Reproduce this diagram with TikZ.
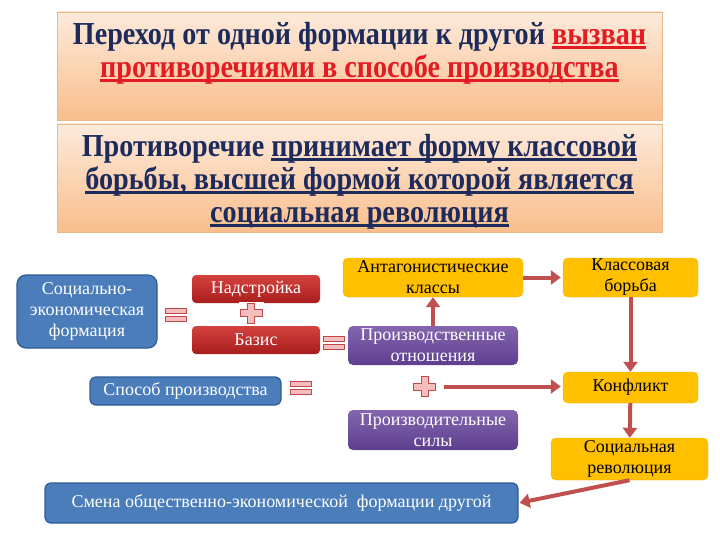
\documentclass[tikz,border=0pt]{standalone}
\usepackage{fontspec}
\setmainfont{Liberation Serif}
\usetikzlibrary{arrows.meta,positioning}

\definecolor{peachtop}{HTML}{FDEADB}
\definecolor{peachbot}{HTML}{F9BE8C}
\definecolor{peachline}{HTML}{E9B98B}
\definecolor{navytext}{HTML}{1C2B5C}
\definecolor{redtext}{HTML}{E31B23}
\definecolor{blueform}{HTML}{4A7DBA}
\definecolor{blueline}{HTML}{2E5C96}
\definecolor{redtop}{HTML}{D4423E}
\definecolor{redbot}{HTML}{A81E1E}
\definecolor{purptop}{HTML}{8465AE}
\definecolor{purpbot}{HTML}{5E3F8E}
\definecolor{goldbox}{HTML}{FFC000}
\definecolor{goldline}{HTML}{F2B600}
\definecolor{arrowred}{HTML}{C0504D}
\definecolor{signfill}{HTML}{F6BDBD}
\definecolor{signline}{HTML}{C04A4A}

% underline at a fixed depth
\newcommand\ulfix[1]{\setbox0\hbox{#1}\rlap{\rule[-4pt]{\wd0}{2.4pt}}\box0}
% narrow, tall title lines, lowered by the optional amount
\newcommand\narrowlines[2][0pt]{\raisebox{-#1}[\height][\depth]{\scalebox{0.88}[1]{\begin{tabular}{@{}c@{}}#2\end{tabular}}}}

\begin{document}
\begin{tikzpicture}[x=1pt, y=-1pt,
    titlebox/.style={draw=peachline, top color=peachtop, bottom color=peachbot, minimum width=605pt, minimum height=108pt, align=center, text=navytext, font=\fontsize{32}{33}\selectfont\bfseries},
    lowtext/.style={font=\fontsize{18}{21}\selectfont, align=center, inner sep=0pt},
    bluebox/.style={lowtext, draw=blueline, line width=1.2pt, fill=blueform, text=white, rounded corners=6pt},
    redbox/.style={lowtext, top color=redtop, bottom color=redbot, text=white, rounded corners=4pt, minimum width=128pt, minimum height=28pt},
    purplebox/.style={lowtext, top color=purptop, bottom color=purpbot, text=white, rounded corners=5pt, minimum width=170pt},
    goldbox/.style={lowtext, draw=goldline, fill=goldbox, text=black, rounded corners=5pt},
    eqsign/.style={fill=white, inner sep=0pt, minimum width=24pt, minimum height=17pt, path picture={
        \draw[shift={(path picture bounding box.center)}, draw=signline, fill=signfill, line width=0.6pt]
            (-10.5pt,1.5pt) rectangle (10.5pt,6.5pt) (-10.5pt,-6.5pt) rectangle (10.5pt,-1.5pt);}},
    plussign/.style={fill=white, inner sep=0pt, minimum width=25pt, minimum height=23pt, path picture={
        \draw[shift={(path picture bounding box.center)}, draw=signline, fill=signfill, line width=0.6pt]
            (-11pt,-3.5pt) -- (-3.5pt,-3.5pt) -- (-3.5pt,-10pt) -- (3.5pt,-10pt) -- (3.5pt,-3.5pt) -- (11pt,-3.5pt)
            -- (11pt,3.5pt) -- (3.5pt,3.5pt) -- (3.5pt,10pt) -- (-3.5pt,10pt) -- (-3.5pt,3.5pt) -- (-11pt,3.5pt) -- cycle;}},
    arrow/.style={-{Triangle[length=10pt,width=14pt]}, line width=4pt, draw=arrowred}
]
\useasboundingbox (0,0) rectangle (720,540);

% top statements
\node[titlebox] at (359.5,66) (cause) {\narrowlines[2pt]{Переход от одной формации к другой {\color{redtext}\ulfix{вызван}}\\
    {\color{redtext}\ulfix{противоречиями в способе производства}}\\[-6pt]\mbox{}}};
\node[titlebox] at (359.5,178) (contra) {\narrowlines[5pt]{Противоречие \ulfix{принимает форму классовой}\\
    \ulfix{борьбы, высшей формой которой является}\\ \ulfix{социальная революция}}};

% left part
\node[bluebox, rounded corners=9pt, minimum width=140pt, minimum height=73pt] at (87,311.5) (formation) {Социально-\\экономическая\\формация};
\node[eqsign] at (175.5,315) (eqone) {};
\node[redbox] at (256,289) (superstr) {Надстройка};
\node[plussign] at (251,313) (plusone) {};
\node[redbox] at (256,340) (basis) {Базис};
\node[eqsign] at (333.5,342.5) (eqtwo) {};
\node[bluebox, minimum width=191pt, minimum height=28pt] at (185.5,391) (mode) {Способ производства};
\node[eqsign] at (300.5,388) (eqthree) {};

% middle column
\node[goldbox, minimum width=180pt, minimum height=39pt] at (433,277.5) (antag) {Антагонистические\\классы};
\node[purplebox, minimum height=39pt] at (433,345.5) (relations) {Производственные\\отношения};
\node[plussign] at (424.5,386.5) (plustwo) {};
\node[purplebox, minimum height=40pt] at (433,430) (forces) {Производительные\\силы};

% right column
\node[goldbox, minimum width=135pt, minimum height=39pt] at (630.5,277.5) (struggle) {Классовая\\борьба};
\node[goldbox, minimum width=135pt, minimum height=31pt] at (630.5,387.5) (conflict) {Конфликт};
\node[goldbox, minimum width=157pt, minimum height=42pt] at (629.5,459) (revolution) {Социальная\\революция};

\node[bluebox, minimum width=473pt, minimum height=40pt] at (281.5,503) (change) {Смена общественно-экономической\ \ формации другой};

\draw[arrow, shorten >=2pt] (antag) -- (struggle);
\draw[arrow] (relations) -- (antag);
\draw[arrow] (struggle) -- (conflict);
\draw[arrow, shorten <=7pt, shorten >=2pt] (plustwo.east) -- (conflict.west |- plustwo.east);
\draw[arrow] (conflict) -- (revolution);
\draw[arrow, shorten >=1pt] (revolution.south) -- (change.east);
\end{tikzpicture}
\end{document}
